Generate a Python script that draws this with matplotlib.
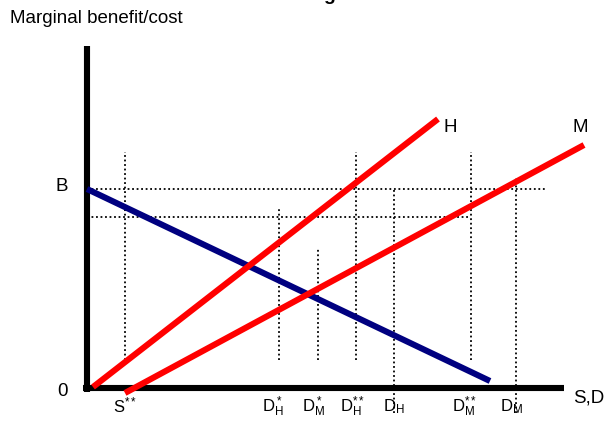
import matplotlib
matplotlib.use("Agg")
import matplotlib.pyplot as plt

plt.rcParams['font.family'] = ['Liberation Sans', 'DejaVu Sans']
plt.rcParams['mathtext.fontset'] = 'custom'
plt.rcParams['mathtext.rm'] = 'Liberation Sans'
plt.rcParams['mathtext.it'] = 'Liberation Sans'

# curves (start, end) in chart units, origin at the axes corner
benefit_x = [0.0, 40.3]
benefit_y = [19.9, 0.7]
cost_h_x = [0.6, 35.1]
cost_h_y = [0.1, 26.9]
cost_m_x = [3.8, 49.7]
cost_m_y = [-0.5, 24.3]

# dotted guide lines
hguide_y = [19.9, 17.1]
hguide_xend = [45.9, 38.2]
vguide_x = [3.8, 19.2, 23.1, 26.9, 30.7, 38.4, 42.9]
vguide_top = [23.6, 17.9, 14.0, 23.6, 19.8, 23.6, 21.0]
vguide_bottom = [2.8, 2.8, 2.8, 2.8, -2.5, 2.8, -2.5]

# quantity labels below the axis
qty_labels = [r'$\mathregular{D^*_H}$', r'$\mathregular{D^*_M}$', r'$\mathregular{D^{**}_H}$',
              r'$\mathregular{D_H}$', r'$\mathregular{D^{**}_M}$', r'$\mathregular{D_M}$']
qty_x = [17.5, 21.5, 25.3, 29.6, 36.5, 41.3]

fig = plt.figure(figsize=(6.16, 4.21), dpi=100)
ax = fig.add_axes([0, 0, 1, 1])
ax.set_xlim(-8.7, 52.9)
ax.set_ylim(-3.3, 38.8)
ax.axis('off')

for y, xe in zip(hguide_y, hguide_xend):
    ax.plot([0, xe], [y, y], color='black', linestyle=(0, (1, 1.5)), linewidth=1.3)
for x, t, b in zip(vguide_x, vguide_top, vguide_bottom):
    ax.plot([x, x], [b, t], color='black', linestyle=(0, (1, 1.5)), linewidth=1.3)

# axes
ax.plot([0, 0], [-0.4, 34.2], color='black', linewidth=4.4, solid_capstyle='butt')
ax.plot([-0.4, 47.7], [0, 0], color='black', linewidth=4.4, solid_capstyle='butt')

ax.plot(benefit_x, benefit_y, color='#000080', linewidth=4.4, solid_capstyle='butt')
ax.plot(cost_h_x, cost_h_y, color='#ff0000', linewidth=4.4, solid_capstyle='butt')
ax.plot(cost_m_x, cost_m_y, color='#ff0000', linewidth=4.4, solid_capstyle='butt')

fs = 13.5
ax.text(-7.7, 36.9, 'Marginal benefit/cost', fontsize=fs, va='center', ha='left')
fig.text(0.535, 1.0, 'g', fontsize=14, fontweight='bold', va='baseline', ha='center')
ax.text(-2.5, 20.1, 'B', fontsize=fs, va='center', ha='center')
ax.text(-2.5, -0.4, '0', fontsize=fs, va='center', ha='center')
ax.text(35.6, 26.0, 'H', fontsize=fs, va='center', ha='left')
ax.text(49.3, 26.0, 'M', fontsize=fs, va='center', ha='center')
ax.text(48.6, -1.0, 'S,D', fontsize=fs, va='center', ha='left')
ax.text(2.6, -1.7, r'$\mathregular{S^{**}}$', fontsize=12, va='center', ha='left')
for lab, x in zip(qty_labels, qty_x):
    ax.text(x, -1.85, lab, fontsize=12, va='center', ha='left')

fig.savefig('out.png', dpi=100)
